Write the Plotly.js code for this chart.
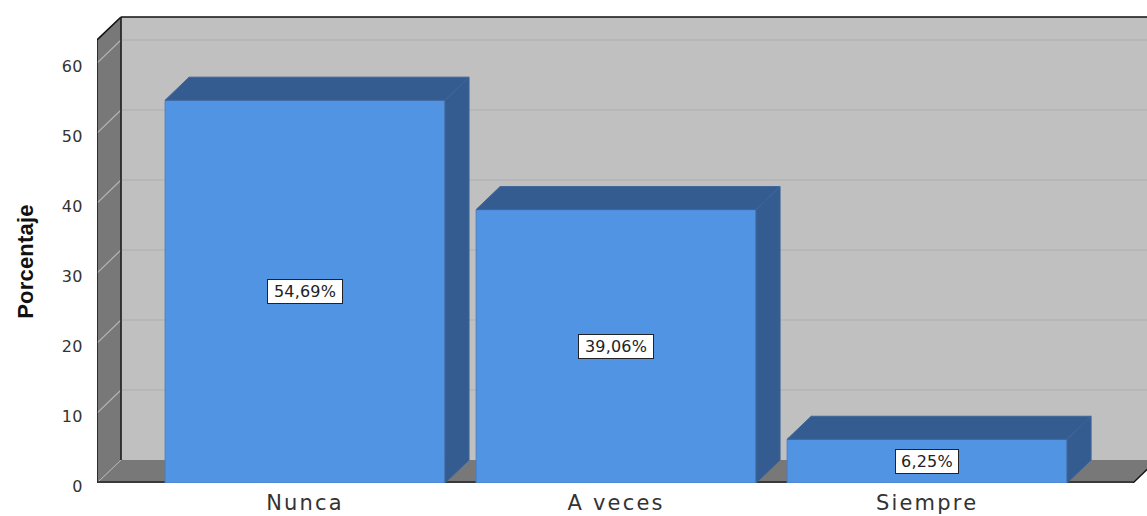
<!DOCTYPE html>
<html>
<head>
<meta charset="utf-8">
<script src="https://cdn.plot.ly/plotly-3.0.1.min.js"></script>
<style>
html,body{margin:0;padding:0;background:#fff;overflow:hidden}
.xtick text{letter-spacing:2.2px}
.ytick text{letter-spacing:0.4px}
.annotation-text-g text{letter-spacing:0.2px}
</style>
</head>
<body>
<div id="chart" style="width:1147px;height:516px"></div>
<script>
const categories = ["Nunca", "A veces", "Siempre"];
const porcentajes = [54.69, 39.06, 6.25];
const etiquetas = ["54,69%", "39,06%", "6,25%"];
const yTicks = [0, 10, 20, 30, 40, 50, 60];

const xRange = [-0.669, 2.707];
const yRange = [0, 69];
const depthX = 0.0772;
const depthY = 3.286;
const barWidth = 0.9;
const wallLeft = xRange[0];
const wallTop = 63.29;
const floorRight = 2.662;

const xs = categories.map((_, i) => i);
const poly = (pts, fill, line, width) => ({
  type: 'path', xref: 'x', yref: 'y', layer: 'below',
  path: 'M' + pts.map(p => p[0] + ',' + p[1]).join('L') + 'Z',
  fillcolor: fill, line: {color: line || fill, width: width === undefined ? 0 : width}
});
const seg = (x0, y0, x1, y1, color, width) => ({
  type: 'line', xref: 'x', yref: 'y', layer: 'below', x0, y0, x1, y1,
  line: {color, width}
});

const shapes = [];
// back wall
shapes.push(poly([[wallLeft + depthX, depthY], [xRange[1], depthY], [xRange[1], wallTop + depthY], [wallLeft + depthX, wallTop + depthY]], '#c0c0c0'));
// left wall
shapes.push(poly([[wallLeft, 0], [wallLeft + depthX, depthY], [wallLeft + depthX, wallTop + depthY], [wallLeft, wallTop]], '#787878'));
// floor
shapes.push(poly([[wallLeft, 0], [floorRight, 0], [floorRight + depthX, depthY], [wallLeft + depthX, depthY]], '#787878'));
// grid lines on walls
yTicks.filter(t => t > 0).forEach(t => {
  shapes.push(seg(wallLeft + depthX, t + depthY, xRange[1], t + depthY, '#aeaeae', 1.2));
  shapes.push(seg(wallLeft, t, wallLeft + depthX, t + depthY, '#b4b4b4', 1.2));
});
shapes.push(seg(wallLeft, 0, wallLeft + depthX, depthY, '#b4b4b4', 1));
// outlines
shapes.push(seg(wallLeft, 0, wallLeft, wallTop, '#1c1c1c', 1.6));
shapes.push(seg(wallLeft, wallTop, wallLeft + depthX, wallTop + depthY, '#111111', 1.6));
shapes.push(seg(wallLeft + depthX, wallTop + depthY, xRange[1], wallTop + depthY, '#111111', 1.6));
shapes.push(seg(wallLeft + depthX, depthY, wallLeft + depthX, wallTop + depthY, '#1c1c1c', 1.6));
shapes.push(seg(wallLeft, 0.15, floorRight, 0.15, '#262626', 1.4));
shapes.push(seg(floorRight, 0, floorRight + depthX, depthY, '#111111', 1.4));
shapes.push(seg(wallLeft, -0.12, floorRight, -0.12, '#c4c4c4', 1.2));

const traces = [{
  type: 'bar', x: xs, y: porcentajes, width: barWidth,
  marker: {color: '#5294e4', line: {color: '#4a7fc4', width: 1}},
  hoverinfo: 'skip', showlegend: false
}];
// top and side faces of each bar
porcentajes.forEach((v, i) => {
  const l = i - barWidth / 2, r = i + barWidth / 2;
  traces.push({
    type: 'scatter', mode: 'lines', fill: 'toself', fillcolor: '#345c90',
    x: [l, l + depthX, r + depthX, r, l],
    y: [v, v + depthY, v + depthY, v, v],
    line: {color: '#3d6596', width: 1}, hoverinfo: 'skip', showlegend: false
  });
  traces.push({
    type: 'scatter', mode: 'lines', fill: 'toself', fillcolor: '#345c90',
    x: [r, r + depthX, r + depthX, r, r],
    y: [0, depthY, v + depthY, v, 0],
    line: {color: '#3d6596', width: 1}, hoverinfo: 'skip', showlegend: false
  });
});

const annotations = porcentajes.map((v, i) => ({
  x: i, y: v / 2, xref: 'x', yref: 'y', text: etiquetas[i], showarrow: false,
  font: {family: 'DejaVu Sans', size: 16, color: '#222222'},
  bgcolor: '#ffffff', bordercolor: '#222222', borderwidth: 1, borderpad: 1,
  width: i === 2 ? 60 : 72, height: 21
}));
annotations.push({
  xref: 'paper', x: -0.0676, xanchor: 'center', yref: 'y', y: 31.6, yanchor: 'middle',
  text: '<b>Porcentaje</b>', textangle: -90, showarrow: false,
  font: {family: 'Liberation Sans', size: 22, color: '#111111'}
});

const layout = {
  width: 1147, height: 516,
  margin: {l: 97, r: 0, t: 0, b: 33, pad: 0},
  paper_bgcolor: '#ffffff', plot_bgcolor: '#ffffff',
  showlegend: false,
  xaxis: {
    range: xRange, tickmode: 'array', tickvals: xs, ticktext: categories,
    showgrid: false, zeroline: false, showline: false, ticks: 'outside', ticklen: 1,
    tickcolor: 'rgba(0,0,0,0)', automargin: false,
    tickfont: {family: 'DejaVu Sans', size: 21, color: '#333333'}
  },
  yaxis: {
    range: yRange, tickmode: 'array', tickvals: yTicks, ticktext: yTicks.map(String),
    showgrid: false, zeroline: false, showline: false, ticks: 'outside', ticklen: 10,
    tickcolor: 'rgba(0,0,0,0)', automargin: false, ticklabelshift: 3,
    tickfont: {family: 'DejaVu Sans', size: 16, color: '#333333'}
  },
  shapes, annotations
};
Plotly.newPlot('chart', traces, layout, {displayModeBar: false, staticPlot: true});
</script>
</body>
</html>
